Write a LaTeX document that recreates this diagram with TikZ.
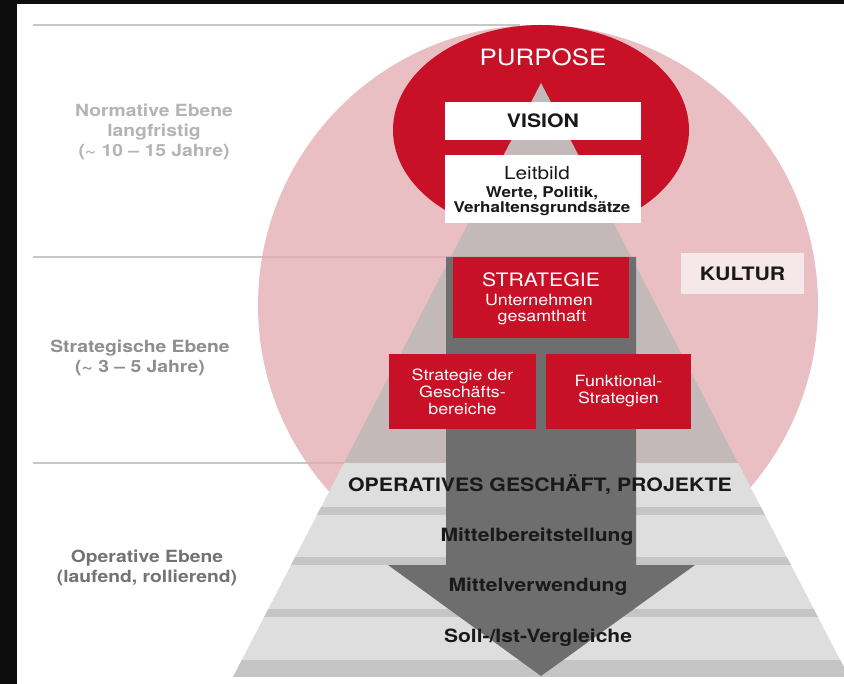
\documentclass[tikz,border=0pt]{standalone}
\usepackage{fontspec}
\setmainfont{TeX Gyre Heros}[FakeStretch=1.15]
\definecolor{redc}{RGB}{200,16,38}
\definecolor{pinkc}{RGB}{228,170,176}
\definecolor{pyrup}{RGB}{195,185,184}
\definecolor{bandc}{RGB}{222,222,222}
\definecolor{stripec}{RGB}{197,197,197}
\definecolor{arrowc}{RGB}{110,110,110}
\definecolor{linec}{RGB}{200,200,200}
\definecolor{kulturc}{RGB}{246,231,232}
\definecolor{txtc}{RGB}{25,25,25}
\definecolor{frame}{RGB}{13,13,13}
\tikzset{
  hline/.style={draw=linec, line width=2pt},
  whitebox/.style={fill=white, inner sep=0pt, align=center, text=txtc},
  redbox/.style={fill=redc, inner sep=0pt, align=center, text=white},
  lefttxt/.style={align=center, inner sep=0pt, font=\bfseries\fontsize{16.8}{20}\selectfont},
  bandtxt/.style={inner sep=0pt, text=txtc, font=\bfseries\fontsize{18.3}{20}\selectfont},
  plain/.style={inner sep=0pt, anchor=center},
}
\begin{document}
\begin{tikzpicture}[x=1pt,y=-1pt]
\useasboundingbox (0,0) rectangle (844,684);
\fill[white] (0,0) rectangle (844,684);
\fill[frame] (0,0) rectangle (844,4);
\fill[frame] (0,0) rectangle (17,684);
% level lines
\draw[hline] (33,25) -- (520,25);
\draw[hline] (33,257) -- (541,257);
\draw[hline] (33,463) -- (541,463);
% culture circle
\fill[pinkc, fill opacity=0.75] (538,305) circle [radius=280pt];
% purpose ellipse
\fill[redc] (541,130) ellipse [x radius=148pt, y radius=105pt];
% pyramid
\begin{scope}
  \clip (541,83) -- (233,677) -- (849,677) -- cycle;
  \fill[pyrup] (200,80) rectangle (850,463);
  \fill[bandc] (200,463) rectangle (850,677);
  \fill[stripec] (200,507) rectangle (850,515);
  \fill[stripec] (200,557) rectangle (850,565);
  \fill[stripec] (200,609) rectangle (850,617);
  \fill[stripec] (200,660) rectangle (850,677);
\end{scope}
% arrow
\fill[arrowc] (446,257) -- (636,257) -- (636,565) -- (695,565) -- (541,676) -- (388,565) -- (446,565) -- cycle;
% top boxes
\node[text=white, font=\fontsize{22.5}{24}\selectfont] (purpose) at (543,57) {PURPOSE};
\node[whitebox, minimum width=196pt, minimum height=38pt, font=\bfseries\fontsize{18.5}{20}\selectfont] (vision) at (543,121) {VISION};
\node[whitebox, minimum width=196pt, minimum height=68pt] (leitbild) at (543,189) {};
\node[plain, text=txtc, font=\fontsize{18}{20}\selectfont] (leitbildA) at (537,173) {Leitbild};
\node[plain, text=txtc, font=\bfseries\fontsize{14.8}{17}\selectfont] (leitbildB) at (542,193) {Werte, Politik,};
\node[plain, text=txtc, font=\bfseries\fontsize{14.8}{17}\selectfont] (leitbildC) at (542,209) {Verhaltensgrundsätze};
% strategy boxes
\node[redbox, minimum width=176pt, minimum height=81pt] (strategie) at (541,297.5) {};
\node[plain, text=white, font=\fontsize{18.5}{20}\selectfont] (strategieA) at (541,280) {STRATEGIE};
\node[plain, text=white, font=\fontsize{15.5}{17}\selectfont] (strategieB) at (539,300) {Unternehmen};
\node[plain, text=white, font=\fontsize{15.5}{17}\selectfont] (strategieC) at (542,318) {gesamthaft};
\node[redbox, minimum width=147pt, minimum height=75pt, font=\fontsize{15.5}{17}\selectfont] (geschaeft) at (462.5,391.5)
  {Strategie der\\ Geschäfts-\\ bereiche};
\node[redbox, minimum width=145pt, minimum height=75pt, font=\fontsize{15.5}{17}\selectfont] (funktional) at (618.5,391.5)
  {Funktional-\\ Strategien};
\node[fill=kulturc, inner sep=0pt, minimum width=123pt, minimum height=41pt, text=txtc, font=\bfseries\fontsize{18.5}{20}\selectfont] (kultur) at (742.5,273.5) {KULTUR};
% band texts
\node[bandtxt, font=\bfseries\fontsize{18.5}{20}\selectfont] (operativ) at (540,485) {OPERATIVES GESCHÄFT, PROJEKTE};
\node[bandtxt] (bereit) at (537,537) {Mittelbereitstellung};
\node[bandtxt] (verwend) at (538,587) {Mittelverwendung};
\node[bandtxt] (soll) at (538,638) {Soll-/Ist-Vergleiche};
% level labels
\node[lefttxt, text={rgb,255:red,180;green,180;blue,180}] (normativ) at (154,132) {Normative Ebene\\ langfristig\\ (\textasciitilde\ 10 – 15 Jahre)};
\node[lefttxt, text={rgb,255:red,142;green,142;blue,142}] (strateg) at (140,358) {Strategische Ebene\\ (\textasciitilde\ 3 – 5 Jahre)};
\node[lefttxt, text={rgb,255:red,115;green,115;blue,115}] (operative) at (147,568) {Operative Ebene\\ (laufend, rollierend)};
\end{tikzpicture}
\end{document}
